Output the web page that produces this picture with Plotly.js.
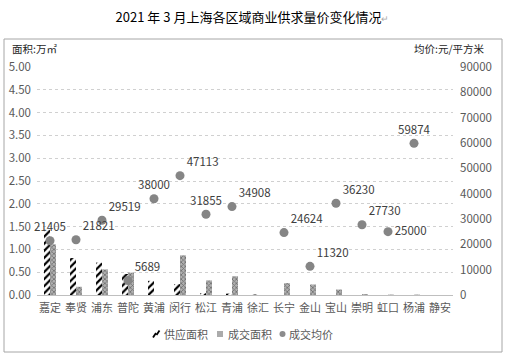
<!DOCTYPE html>
<html>
<head>
<meta charset="utf-8">
<script src="https://cdn.plot.ly/plotly-3.0.1.min.js"></script>
<style>
html,body{margin:0;padding:0;background:#fff;}
#chart{width:505px;height:356px;}
</style>
</head>
<body>
<div id="chart"></div>
<script>
const districts = ["嘉定","奉贤","浦东","普陀","黄浦","闵行","松江","青浦","徐汇","长宁","金山","宝山","崇明","虹口","杨浦","静安"];
const supplyArea = [1.43,0.81,0.71,0.46,0.31,0.24,0.04,0.03,0.01,0,0,0,0,0,0,0];
const dealArea = [1.11,0.18,0.56,0.49,0,0.87,0.32,0.41,0,0.26,0.23,0.12,0.02,0.01,0.01,0];
const avgPrice = [21405,21821,29519,5689,38000,47113,31855,34908,null,24624,11320,36230,27730,25000,59874,null];
const seriesNames = ["供应面积","成交面积","成交均价"];
const priceLabelPos = ["top center","top right","top right","top right","top center","top right","top center","top right","top right","top right","top right","top right","top right","middle right","top center","top right"];

const FONT = "'Noto Sans CJK SC', 'Noto Sans', sans-serif";
const GREY = "#595959";

const traces = [
  {
    type: "bar", name: seriesNames[0], x: districts, y: supplyArea,
    marker: {color: "#ffffff", line: {width: 0},
      pattern: {shape: "/", fgcolor: "#000000", bgcolor: "#ffffff", size: 5, solidity: 0.45}},
    hoverinfo: "none"
  },
  {
    type: "bar", name: seriesNames[1], x: districts, y: dealArea,
    marker: {color: "#a0a0a0", line: {width: 0},
      pattern: {shape: "x", fgcolor: "#6e6e6e", bgcolor: "#b0b0b0", size: 3, solidity: 0.45}},
    hoverinfo: "none"
  },
  {
    type: "scatter", mode: "markers+text", name: seriesNames[2], x: districts, y: avgPrice,
    yaxis: "y2",
    marker: {color: "#858585", size: 9},
    text: avgPrice.map(v => v == null ? "" : String(v)),
    textposition: priceLabelPos,
    textfont: {family: FONT, size: 11.5, color: "#404040"},
    cliponaxis: false,
    hoverinfo: "none"
  }
];

// pixel -> paper helpers (plot area: x 37..453, y 67..295)
const px = v => (v - 37) / 416;
const py = v => (295 - v) / 228;
const legY = 334;

const layout = {
  width: 505, height: 356,
  margin: {l: 37, r: 52, t: 67, b: 61},
  paper_bgcolor: "#ffffff", plot_bgcolor: "#ffffff",
  font: {family: FONT, color: GREY, size: 11},
  title: {
    text: "2021 年 3 月上海各区域商业供求量价变化情况<span style='font-size:9px;color:#aaaaaa'>↵</span>",
    font: {family: FONT, size: 13, color: "#000000"},
    x: 0.5, xanchor: "center", xref: "container",
    y: 1 - 17/356, yanchor: "middle", yref: "container"
  },
  barmode: "group", bargap: 0.54, bargroupgap: 0,
  xaxis: {
    type: "category", tickangle: 0, automargin: false,
    range: [-0.5, districts.length - 0.5],
    tickfont: {family: FONT, size: 11, color: GREY},
    showline: true, linecolor: "#bfbfbf", linewidth: 1,
    ticks: "", showgrid: false, zeroline: false,
    ticklabelstandoff: 3
  },
  yaxis: {
    range: [0, 5], dtick: 0.5, tickformat: ".2f", automargin: false,
    tickfont: {family: FONT, size: 11.5, color: GREY},
    showgrid: true, gridcolor: "#d0d0d0", griddash: "dot", gridwidth: 1,
    zeroline: false, showline: false, ticks: "",
    ticklabelstandoff: 5
  },
  yaxis2: {
    overlaying: "y", side: "right", automargin: false,
    range: [0, 90000], dtick: 10000, tickformat: "d",
    tickfont: {family: FONT, size: 11.5, color: GREY},
    showgrid: false, zeroline: false, showline: false, ticks: "",
    ticklabelstandoff: 6
  },
  showlegend: false,
  annotations: [
    {text: "面积:万㎡", xref: "paper", yref: "paper", x: px(10), y: py(49),
     xanchor: "left", yanchor: "middle", showarrow: false,
     font: {family: FONT, size: 10.5, color: "#262626"}},
    {text: "均价:元/平方米", xref: "paper", yref: "paper", x: px(487), y: py(49),
     xanchor: "right", yanchor: "middle", showarrow: false,
     font: {family: FONT, size: 10.5, color: "#262626"}},
    {text: seriesNames[0], xref: "paper", yref: "paper", x: px(162), y: py(legY),
     xanchor: "left", yanchor: "middle", showarrow: false,
     font: {family: FONT, size: 11, color: GREY}},
    {text: seriesNames[1], xref: "paper", yref: "paper", x: px(226), y: py(legY),
     xanchor: "left", yanchor: "middle", showarrow: false,
     font: {family: FONT, size: 11, color: GREY}},
    {text: seriesNames[2], xref: "paper", yref: "paper", x: px(287), y: py(legY),
     xanchor: "left", yanchor: "middle", showarrow: false,
     font: {family: FONT, size: 11, color: GREY}}
  ],
  shapes: [
    {type: "rect", xref: "paper", yref: "paper",
     x0: px(4), x1: px(502), y0: py(352), y1: py(39),
     line: {color: "#a6a6a6", width: 1}, fillcolor: "rgba(0,0,0,0)", layer: "below"},
    // legend icons
    {type: "line", xref: "paper", yref: "paper", x0: px(153), y0: py(337.5), x1: px(156), y1: py(333),
     line: {color: "#000000", width: 1.8}},
    {type: "line", xref: "paper", yref: "paper", x0: px(156.5), y0: py(335), x1: px(159.5), y1: py(330.5),
     line: {color: "#000000", width: 1.8}},
    {type: "rect", xref: "paper", yref: "paper", x0: px(217), x1: px(223), y0: py(337), y1: py(331),
     line: {width: 0}, fillcolor: "#ababab"},
    {type: "circle", xref: "paper", yref: "paper", x0: px(279.5), x1: px(285.5), y0: py(337), y1: py(331),
     line: {width: 0}, fillcolor: "#8c8c8c"}
  ]
};

Plotly.newPlot("chart", traces, layout, {staticPlot: true, displayModeBar: false});
</script>
</body>
</html>
